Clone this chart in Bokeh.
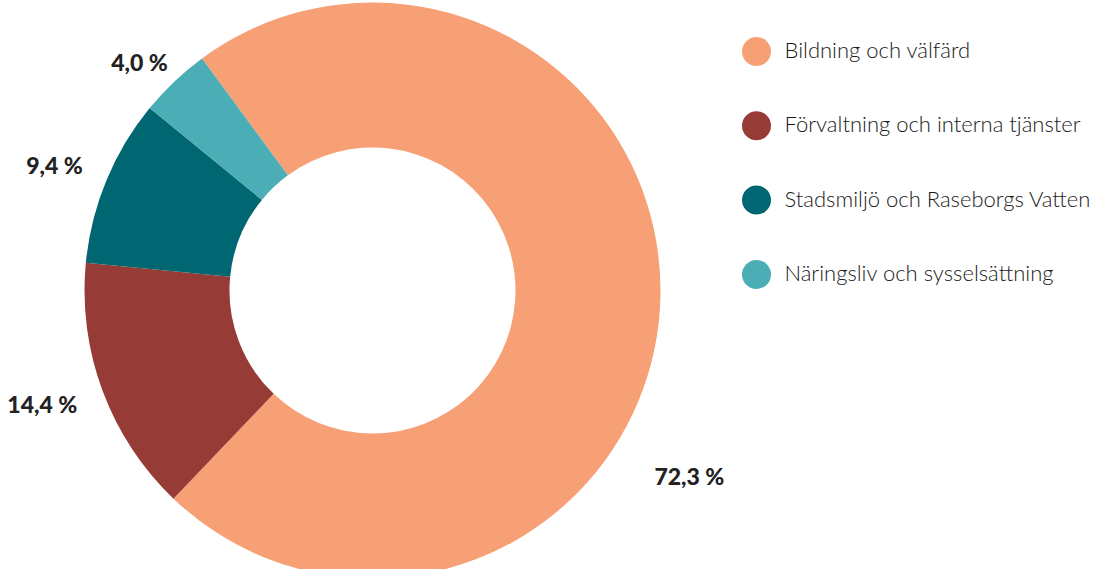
import math
from bokeh.plotting import figure
from bokeh.models import ColumnDataSource
from bokeh.core.properties import value
from bokeh.embed import file_html
from bokeh.resources import INLINE

categories = ["Bildning och välfärd", "Förvaltning och interna tjänster",
              "Stadsmiljö och Raseborgs Vatten", "Näringsliv och sysselsättning"]
shares = [72.3, 14.4, 9.4, 4.0]
labels = ["72,3 %", "14,4 %", "9,4 %", "4,0 %"]
colors = ["#F7A076", "#963B36", "#006672", "#4BADB5"]

W, H = 1096, 569
cx, cy = 372, 279
r_out, r_in = 288, 143
start_deg = 126.3

# wedge angles (clockwise)
total = sum(shares)
starts, ends = [], []
a = math.radians(start_deg)
for s in shares:
    span = 2 * math.pi * s / total
    starts.append(a)
    ends.append(a - span)
    a -= span

src = ColumnDataSource(dict(start=starts, end=ends, color=colors))

p = figure(width=W, height=H, x_range=(0, W), y_range=(0, H),
           output_backend="svg", toolbar_location=None, min_border=0)
p.axis.visible = False
p.grid.visible = False
p.outline_line_color = None
p.background_fill_color = "white"

p.annular_wedge(x=cx, y=cy, inner_radius=r_in, outer_radius=r_out,
                start_angle="start", end_angle="end", direction="clock",
                color="color", line_color=None, source=src)

# label placement (polar, relative to centre)
lab_ang = [-30.3, 198.9, 158.4, 135.6]
lab_dist = [367, 349, 342, 326]
lx = [cx + d * math.cos(math.radians(t)) for t, d in zip(lab_ang, lab_dist)]
ly = [cy + d * math.sin(math.radians(t)) for t, d in zip(lab_ang, lab_dist)]
p.text(x=lx, y=ly, text=labels, text_align="center", text_baseline="middle",
       text_font=value("Lato Black"), text_font_style="normal", text_font_size="23px",
       text_color="#222222")

# legend
leg_x = 756
leg_y = [H - 51 - i * 74.3 for i in range(len(categories))]
p.scatter(x=[leg_x] * len(categories), y=leg_y, size=29, color=colors,
          line_color=None)
p.text(x=[leg_x + 28] * len(categories), y=[v + 2 for v in leg_y], text=categories,
       text_align="left", text_baseline="middle", text_font=value("Lato Light"),
       text_font_size="22px", text_color="#1a1a1a")

open("out.html", "w").write(file_html(p, INLINE))
